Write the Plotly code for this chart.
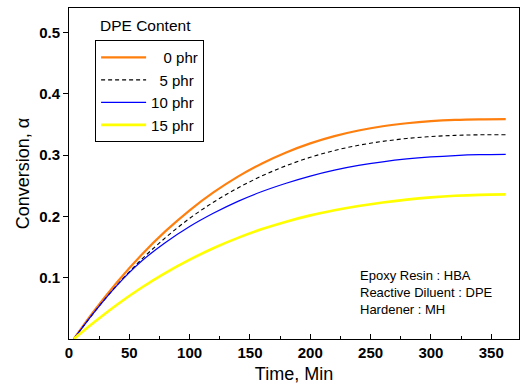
import plotly.graph_objects as go

# Cure time (min) and degree of conversion for each DPE loading
time_min = [4, 20, 40, 60, 80, 100, 120, 140, 160, 180, 200, 220, 240,
            260, 280, 300, 320, 340, 362]

alpha_0phr = [0.0, 0.0437, 0.0931, 0.1371, 0.1759, 0.2100, 0.2395, 0.2649,
              0.2864, 0.3043, 0.3191, 0.3310, 0.3401, 0.3471, 0.3520, 0.3554,
              0.3574, 0.3583, 0.3586]
alpha_5phr = [0.0, 0.0415, 0.0884, 0.1296, 0.1653, 0.1968, 0.2235, 0.2464,
              0.2661, 0.2827, 0.2964, 0.3075, 0.3160, 0.3224, 0.3271, 0.3303,
              0.3322, 0.3331, 0.3333]
alpha_10phr = [0.0, 0.0415, 0.0880, 0.1268, 0.1574, 0.1835, 0.2055, 0.2246,
               0.2406, 0.2541, 0.2658, 0.2755, 0.2832, 0.2891, 0.2937, 0.2970,
               0.2993, 0.3007, 0.3012]
alpha_15phr = [0.0, 0.0260, 0.0563, 0.0836, 0.1078, 0.1294, 0.1485, 0.1650,
               0.1793, 0.1914, 0.2017, 0.2100, 0.2170, 0.2228, 0.2274, 0.2310,
               0.2336, 0.2352, 0.2360]

series_names = ["\u00a0\u00a0\u00a00 phr", "\u00a0\u00a05 phr", "10 phr", "15 phr"]
y_ticks = [0.1, 0.2, 0.3, 0.4, 0.5]
x_ticks = [0, 50, 100, 150, 200, 250, 300, 350]
notes = ["Epoxy Resin : HBA", "Reactive Diluent : DPE", "Hardener : MH"]

FONT = "Arial, Liberation Sans, sans-serif"

styles = [
    dict(color="#FF7F0E", width=2.2),
    dict(color="black", width=1.1, dash="4px,3px"),
    dict(color="#0000FF", width=1.2),
    dict(color="#FFFF00", width=2.6),
]

fig = go.Figure()
for name, ys, st in zip(series_names,
                        [alpha_0phr, alpha_5phr, alpha_10phr, alpha_15phr],
                        styles):
    fig.add_trace(go.Scatter(x=time_min, y=ys, mode="lines", name=name,
                             line=dict(shape="spline", smoothing=1.0, **st)))

fig.update_layout(
    width=520, height=392,
    margin=dict(l=69, r=1, t=8, b=53),
    plot_bgcolor="white", paper_bgcolor="white",
    font=dict(family=FONT, color="black"),
    legend=dict(
        x=0.058, y=0.903, xanchor="left", yanchor="top",
        bordercolor="black", borderwidth=1, bgcolor="white",
        font=dict(size=15, family=FONT), tracegroupgap=0,
        itemwidth=45,
    ),
    xaxis=dict(
        range=[0, 373], tickvals=x_ticks, ticks="inside", ticklen=5,
        tickwidth=1, tickcolor="black",
        minor=dict(dtick=25, tick0=0, ticks="inside", ticklen=3, tickcolor="black"),
        showline=True, linecolor="black", linewidth=1, mirror=True,
        showgrid=False, zeroline=False,
        tickfont=dict(size=15, family=FONT, weight="bold"),
        title=dict(text="Time, Min", font=dict(size=18, family=FONT), standoff=7),
    ),
    yaxis=dict(
        range=[0, 0.54], tickvals=y_ticks, ticktext=[f"{v:.1f}" for v in y_ticks],
        ticks="outside", ticklen=5, tickwidth=1, tickcolor="black",
        showline=True, linecolor="black", linewidth=1, mirror=True,
        showgrid=False, zeroline=False,
        tickfont=dict(size=15, family=FONT, weight="bold"),
        title=dict(text="Conversion, α", font=dict(size=18, family=FONT), standoff=4),
    ),
)

fig.add_annotation(text="DPE Content", xref="paper", yref="paper",
                   x=0.064, y=0.946, xanchor="left", yanchor="middle",
                   showarrow=False, font=dict(size=15.5, family=FONT))

for i, line in enumerate(notes):
    fig.add_annotation(text=line, xref="paper", yref="paper",
                       x=0.642, y=0.193 - i * 0.052, xanchor="left",
                       yanchor="middle", showarrow=False,
                       font=dict(size=13, family=FONT))

fig.write_html("out.html")
